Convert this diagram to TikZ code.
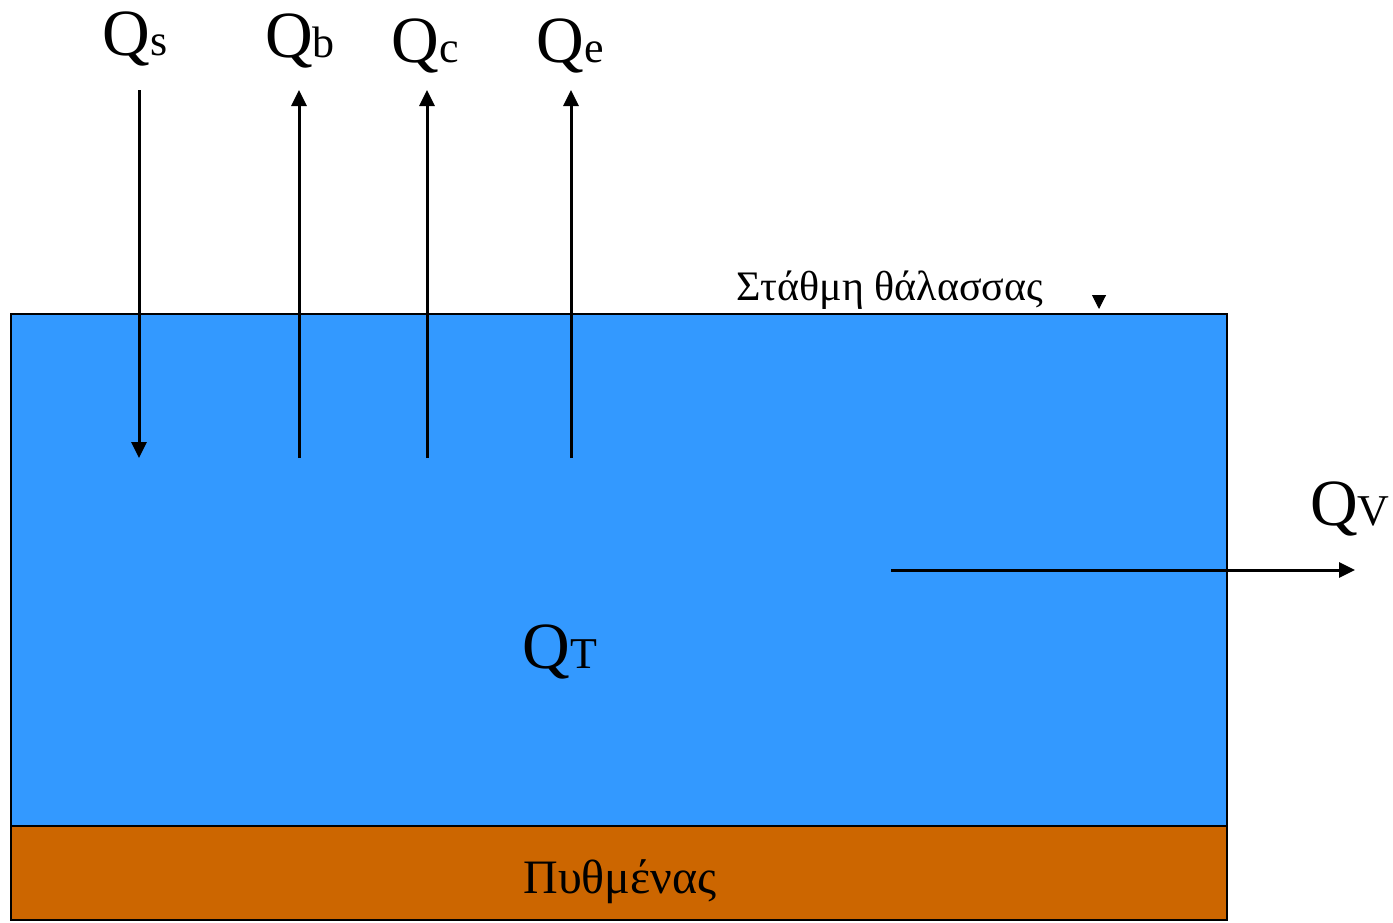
\documentclass[tikz,border=0pt]{standalone}
\usepackage{fontspec}
\setmainfont{LiberationSerif}[Extension=.ttf, UprightFont=*-Regular]
\usetikzlibrary{arrows.meta}
\definecolor{seablue}{HTML}{3399FF}
\definecolor{seabed}{HTML}{CC6600}
\newcommand{\fluxlabel}[1]{\fontsize{66}{70}\selectfont Q{\fontsize{44}{48}\selectfont #1}}

\begin{document}
\begin{tikzpicture}[x=1pt, y=-1pt,
    flux/.style={line width=3pt, -{Triangle[width=15pt,length=16pt]}},
    lbl/.style={anchor=base, inner sep=0pt}]
    \useasboundingbox (0,0) rectangle (1393,922);
    % sea water and sea bed
    \filldraw[fill=seablue, line width=1.6pt] (11,314) rectangle (1227,826);
    \filldraw[fill=seabed, line width=1.6pt] (11,826) rectangle (1227,920);
    % surface fluxes
    \node[lbl] (qs) at (135,55) {\fluxlabel{s}};
    \node[lbl] (qb) at (300,57) {\fluxlabel{b}};
    \node[lbl] (qc) at (425,62) {\fluxlabel{c}};
    \node[lbl] (qe) at (570,62) {\fluxlabel{e}};
    \coordinate (stop) at (139,90);   \coordinate (sbot) at (139,458);
    \coordinate (btop) at (299,90);   \coordinate (bbot) at (299,458);
    \coordinate (ctop) at (427,90);   \coordinate (cbot) at (427,458);
    \coordinate (etop) at (571,90);   \coordinate (ebot) at (571,458);
    \draw[flux] (stop) -- (sbot);
    \draw[flux] (bbot) -- (btop);
    \draw[flux] (cbot) -- (ctop);
    \draw[flux] (ebot) -- (etop);
    % sea level
    \node[lbl] (level) at (890,300) {\fontsize{42}{46}\selectfont Στάθμη θάλασσας};
    \coordinate (mtop) at (1099,295); \coordinate (mbot) at (1099,309);
    \draw[line width=1pt, -{Triangle[width=14pt,length=14pt]}] (mtop) -- (mbot);
    % advection
    \node[lbl] (qv) at (1350,525) {\fluxlabel{V}};
    \coordinate (vleft) at (891,570); \coordinate (vright) at (1355,570);
    \draw[flux] (vleft) -- (vright);
    % storage and bottom
    \node[lbl] (qt) at (560,668) {\fluxlabel{T}};
    \node[lbl] (bottom) at (620,893) {\fontsize{48}{52}\selectfont Πυθμένας};
\end{tikzpicture}
\end{document}
